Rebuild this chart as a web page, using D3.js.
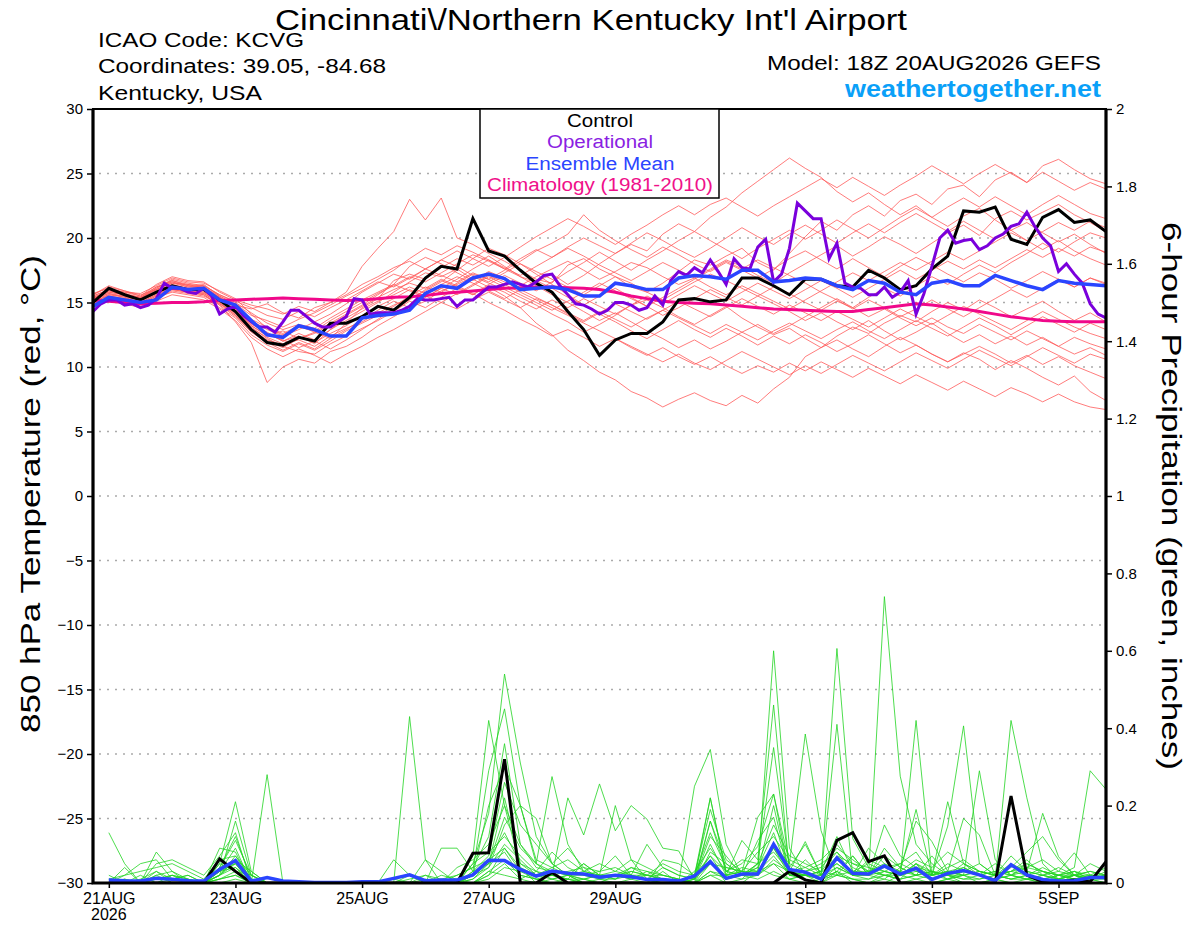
<!DOCTYPE html>
<html>
<head>
<meta charset="utf-8">
<script src="https://cdn.jsdelivr.net/npm/d3@7"></script>
<style>
  body { margin: 0; background: #fff; }
  text { font-family: "Liberation Sans", Arial, Helvetica, sans-serif; }
</style>
</head>
<body>
<svg id="chart" width="1200" height="927"></svg>
<script>
// ---- data ----
const START = Date.UTC(2026, 7, 20, 18);   // 18Z 20AUG2026, 6-hourly steps
const END = Date.UTC(2026, 8, 5, 18);

const tempTicks = [-30, -25, -20, -15, -10, -5, 0, 5, 10, 15, 20, 25, 30];
const precipTicks = [0, 0.2, 0.4, 0.6, 0.8, 1, 1.2, 1.4, 1.6, 1.8, 2];
const dateTicks = ["2026-08-21", "2026-08-23", "2026-08-25", "2026-08-27", "2026-08-29", "2026-09-01", "2026-09-03", "2026-09-05"];
const dateLabels = ["21AUG", "23AUG", "25AUG", "27AUG", "29AUG", "1SEP", "3SEP", "5SEP"];

// 850 hPa temperature, 6-hourly from 18Z 20AUG
const controlTemp = [15.0,16.1,15.6,15.2,15.8,16.3,16.0,16.0,15.2,14.3,12.9,11.9,11.7,12.3,12.0,13.4,13.4,13.9,14.7,14.4,15.4,16.9,17.8,17.6,21.5,19.0,18.6,
  17.5,16.5,15.8,14.3,12.9,10.9,12.1,12.6,12.6,13.5,15.2,15.3,15.05,15.2,16.9,16.9,16.3,15.6,
  16.8,16.8,16.3,16.2,17.5,16.9,16.0,16.3,17.6,18.6,22.1,22.0,22.4,19.9,19.5,21.6,22.2,21.2,21.4,20.5];

const meanTemp = [14.7,15.4,15.2,15.0,15.2,16.2,16.0,16.1,15.2,14.8,13.6,12.5,12.3,13.2,12.9,12.4,12.4,13.8,14.0,14.1,14.4,15.7,16.3,16.1,16.9,17.2,16.85,
  16.0,16.1,16.2,16.0,15.5,15.5,16.5,16.3,16.0,16.0,16.9,17.1,17.0,16.8,17.5,17.5,16.6,16.7,16.9,
  16.8,16.3,16.0,16.7,16.5,15.8,15.6,16.5,16.7,16.3,16.3,17.1,16.7,16.3,16.0,16.7,16.5,16.4,16.3];

const climoTemp = [15.2,15.1,15.0,14.9,14.95,15.0,15.0,15.05,15.15,15.2,15.25,15.3,15.35,15.3,15.25,15.2,15.15,15.2,15.3,15.4,15.45,15.55,15.7,15.8,15.9,16.0,
  16.1,16.15,16.2,16.2,16.15,16.1,16.0,15.8,15.5,15.3,15.1,15.0,14.95,14.9,14.8,14.7,14.6,14.5,14.45,14.4,14.35,14.3,14.3,14.45,
  14.6,14.75,14.9,14.8,14.65,14.5,14.3,14.1,13.9,13.75,13.6,13.55,13.5,13.5,13.5];

// operational run is 3-hourly
const operTemp = [14.3,14.9,15.2,15.2,14.8,14.9,14.6,14.8,15.3,16.5,
  16.1,16.1,15.8,15.7,16.1,15.5,14.1,14.5,14.7,14.0,
  13.5,13.1,13.1,12.7,13.5,14.4,14.4,13.9,13.4,13.1,
  13.1,13.5,13.9,15.3,15.2,14.1,14.2,14.2,14.2,14.4,
  14.7,15.3,15.2,15.2,15.3,15.4,14.7,15.2,15.2,15.7,
  16.2,16.2,16.4,16.6,16.4,16.2,16.6,17.1,17.2,16.3,
  15.6,14.9,14.8,14.5,14.1,14.4,15.0,15.0,14.8,14.4,
  14.6,15.5,14.8,16.7,17.4,17.1,17.7,17.3,18.3,17.4,
  16.4,18.4,17.7,17.6,19.3,19.9,16.6,17.2,19.2,22.7,
  22.1,21.5,21.5,18.4,19.6,16.5,16.2,16.1,15.6,15.6,
  16.2,15.4,15.8,16.7,14.1,15.7,17.8,20.0,20.6,19.6,
  19.8,19.9,19.1,19.4,20.0,20.3,20.9,21.1,22.0,20.9,
  20.0,19.4,17.4,18.0,17.2,16.5,14.9,14.1,13.8];

const memberTemp = [
  [15.3,15.8,15.6,15.4,16.2,16.6,16.2,16.4,15.5, 14.8,14.5,14.9,14.2,13.8,14.6,15.0,15.8,17.8, 19.2,20.5,23.0,21.4,23.1,20.0,19.5,18.8,18.2,17.5,16.8,
   16.5,17.9,18.4,17.6,17.0,16.2,15.8,16.5,17.4,18.3,17.9,18.6,19.2,18.1,17.5,18.8, 20.1,21.3,20.6,21.8,22.5,21.7,22.9,23.4,22.6,23.8,24.1,23.2,24.5,25.1,24.3,25.6,26.1,25.3,24.6,24.2],
  [15.0,15.4,15.2,14.9,15.5,16.0,15.8,15.6,14.8, 13.5,11.9,8.8,10.0,10.6,10.3,11.2,11.6,12.3, 13.2,13.9,14.6,15.1,15.9,16.4,17.0,16.5,16.0,15.4,14.8,
   14.1,13.5,12.7,13.3,14.0,14.8,15.2,14.6,13.9,13.3,14.0,14.7,13.8,13.1,12.5,13.0, 12.2,11.5,12.1,11.4,10.8,11.6,12.3,11.7,11.0,10.4,11.1,10.6,9.8,10.5,9.9,9.2,8.6,9.3,8.1,7.4],
  [15.6,16.3,15.9,15.6,16.0,16.5,16.4,16.1,15.4, 14.6,13.4,12.6,12.0,12.4,11.8,12.9,13.6,14.3, 15.0,15.8,16.6,17.3,17.0,17.6,16.8,16.2,15.5,14.6,13.4,
   12.5,11.3,10.5,9.6,9.0,8.1,7.6,6.9,7.5,8.0,7.4,7.0,7.8,7.2,8.3,9.2, 10.8,11.5,12.4,13.1,12.6,13.4,14.0,13.5,14.3,15.0,14.4,15.2,14.6,13.9,14.5,15.1,14.3,13.6,14.2,13.5],
  [14.8,15.2,15.0,14.7,15.3,15.9,15.7,15.5,14.9, 14.0,12.8,12.0,11.5,12.2,12.7,12.2,13.4,14.6, 15.3,16.7,17.2,16.8,17.7,18.4,17.9,18.6,17.8,17.0,16.6,
   17.2,16.4,17.1,18.0,18.8,19.5,19.0,20.3,21.1,20.5,21.6,22.4,23.5,24.4,25.3,26.2, 25.4,24.7,23.6,22.8,23.5,22.6,21.8,22.5,21.6,20.9,21.7,22.3,21.4,20.6,21.2,20.4,19.7,20.3,19.5,18.8],
  [15.4,15.9,15.7,15.3,16.1,16.8,16.5,16.3,15.6, 15.0,14.2,13.4,12.9,13.3,13.0,13.8,14.5,15.2, 15.8,16.4,17.8,18.5,18.0,17.3,16.7,17.4,16.9,16.3,17.0,
   17.6,18.2,17.5,16.8,17.4,18.1,17.7,17.0,16.4,16.9,17.6,18.3,17.8,17.1,16.5,17.3, 18.0,18.7,19.4,18.6,19.3,20.1,19.5,18.8,19.6,20.4,21.0,20.2,21.5,22.1,21.4,22.0,22.6,21.8,21.2,20.5],
  [15.1,15.5,15.3,15.1,15.7,16.2,15.9,15.8,15.0, 14.1,13.0,12.3,11.8,12.1,11.6,12.4,13.0,13.5, 14.2,14.8,15.3,15.9,16.6,17.5,18.4,19.2,18.7,18.0,17.2,
   16.4,15.6,14.8,15.5,16.1,15.4,14.7,14.0,14.6,15.3,16.0,15.4,14.8,15.5,14.9,14.3, 13.6,14.2,13.5,12.9,13.6,12.8,12.1,12.7,13.4,12.6,11.9,12.5,11.8,12.4,11.7,12.3,11.6,11.0,11.5,10.9],
  [15.5,16.0,15.8,15.5,16.4,17.0,16.7,16.6,15.8, 15.2,14.8,14.5,14.1,14.7,14.3,15.0,15.6,16.4, 17.0,17.7,18.2,17.6,18.3,17.8,17.1,16.6,17.3,18.0,17.4,
   16.8,16.2,15.6,16.3,17.0,16.5,15.8,15.2,15.9,16.6,17.2,16.7,16.1,15.5,16.2,15.7, 15.0,14.4,15.1,14.6,13.9,14.5,13.8,13.2,13.8,13.1,12.6,13.3,12.7,12.1,12.8,12.2,11.6,12.3,11.8,11.4],
  [14.9,15.3,15.1,14.8,15.4,15.8,15.6,15.4,14.6, 13.8,12.5,11.7,11.2,11.8,11.3,12.0,12.8,13.4, 14.0,14.7,15.5,16.2,15.8,16.5,17.2,16.8,17.5,18.2,19.0,
   19.6,20.3,21.8,20.6,19.8,19.1,18.5,19.3,18.7,18.0,17.4,18.1,17.5,16.9,17.6,18.4, 19.0,18.3,17.6,18.4,17.7,17.0,17.8,18.5,17.9,17.2,16.6,17.3,16.8,16.1,16.7,17.4,16.8,16.2,16.9,16.4],
  [15.2,15.7,15.4,15.2,15.9,16.4,16.1,16.0,15.3, 14.5,13.2,12.4,12.8,12.2,12.6,13.3,14.0,14.7, 15.4,16.0,16.5,16.1,16.8,16.3,15.7,15.0,14.4,13.7,13.1,
   12.4,12.9,12.3,11.6,12.2,11.5,10.9,11.5,10.8,10.2,10.8,10.1,9.5,10.1,9.6,10.3, 9.7,10.4,9.8,9.2,9.9,9.3,8.7,9.4,8.8,8.2,8.9,8.3,7.7,8.4,7.9,7.3,7.9,7.3,6.9,6.7],
  [15.7,16.1,15.8,15.7,16.3,16.9,16.6,16.5,15.9, 15.3,14.1,13.0,12.5,13.1,12.8,13.6,14.3,15.0, 15.7,16.3,17.0,16.6,17.3,18.0,18.7,18.2,17.6,18.4,19.1,
   18.5,19.3,20.0,19.4,18.8,19.6,20.4,19.8,19.1,18.5,19.2,20.0,20.8,20.1,19.5,20.3, 21.0,20.3,19.6,20.4,21.1,20.4,21.2,21.9,21.2,20.5,21.3,20.6,19.9,20.6,19.8,19.1,19.8,19.0,18.4,17.9],
  [15.0,15.6,15.4,15.0,15.6,16.1,15.9,15.7,14.9, 14.2,13.1,12.2,11.6,11.2,11.0,11.8,12.4,13.0, 13.6,14.3,15.1,14.6,15.4,16.1,15.6,16.3,15.8,15.1,14.5,
   15.2,14.6,15.3,14.7,14.1,14.8,15.5,14.9,15.6,16.3,15.7,15.1,15.8,16.5,15.9,15.3, 16.0,16.7,16.1,15.4,16.1,16.8,17.5,16.8,17.5,18.2,17.6,18.3,17.7,18.4,19.1,18.5,19.2,18.6,19.3,18.9],
  [15.3,15.7,15.5,15.3,15.8,16.3,16.0,15.9,15.1, 14.4,13.3,12.7,12.0,12.6,12.1,12.9,13.8,14.5, 15.1,15.6,16.2,15.7,16.4,17.0,16.5,15.9,15.3,16.0,16.7,
   16.1,15.4,14.8,14.1,13.5,12.8,12.2,12.9,13.6,12.9,12.3,13.0,12.4,11.7,12.4,11.8, 12.5,11.9,11.2,11.8,12.5,11.8,11.1,11.7,11.0,10.4,11.0,11.6,11.0,10.3,10.9,10.2,10.8,10.1,9.6,9.1],
  [15.6,16.2,15.9,15.5,16.2,16.7,16.3,16.2,15.5, 14.9,14.0,13.6,13.1,13.7,14.2,14.8,15.5,16.1, 16.8,17.5,18.4,19.2,18.7,19.4,18.9,18.3,17.6,17.0,16.3,
   15.6,15.0,14.3,13.6,14.2,13.5,12.8,12.2,11.5,12.1,11.4,12.0,12.7,13.3,12.6,13.2, 13.9,14.6,15.3,14.6,15.4,16.1,15.5,16.3,17.0,16.4,17.2,17.9,17.3,18.1,18.8,19.6,18.9,19.7,20.4,20.0],
  [15.4,15.8,15.6,15.4,16.0,16.6,16.3,16.2,15.4, 14.7,13.6,12.9,12.4,12.9,13.5,14.1,14.9,15.8, 16.5,17.2,16.8,17.6,18.3,19.0,18.4,17.8,18.5,19.3,20.1,
   20.8,21.5,20.9,20.2,19.5,20.3,21.0,21.8,22.5,21.8,22.6,23.1,22.4,21.7,22.5,23.2, 23.9,24.6,23.9,24.7,24.0,23.3,24.1,24.8,25.6,24.9,24.2,25.0,25.7,25.0,24.3,25.1,24.4,23.7,24.3,23.8],
  [14.7,15.1,14.9,14.6,15.1,15.6,15.4,15.2,14.5, 13.6,12.3,11.4,10.8,11.4,10.9,10.3,11.0,11.6, 12.3,12.9,13.6,14.3,15.0,14.5,15.2,15.8,15.2,14.6,15.3,
   14.8,14.2,13.6,14.3,13.7,13.1,13.8,14.4,13.8,13.2,12.6,13.3,12.7,12.1,12.8,13.4, 12.8,12.2,12.9,13.5,12.8,12.2,12.9,13.6,13.0,12.4,13.1,13.8,13.2,12.5,13.2,13.9,13.3,12.7,13.4,12.9],
  [15.2,15.6,15.5,15.2,15.7,16.2,16.0,15.8,15.1, 14.3,13.2,12.5,12.1,11.5,12.0,11.4,12.1,12.9, 13.7,14.5,15.2,16.0,16.7,16.2,15.6,16.4,17.1,16.5,15.9,
   16.6,17.4,18.1,18.9,18.2,17.5,18.3,19.0,19.8,20.5,19.8,19.1,18.4,19.2,19.9,20.6, 19.9,20.6,21.4,20.7,20.0,20.8,21.6,22.3,21.6,22.4,23.1,22.4,23.2,22.5,21.8,22.6,23.3,22.6,21.9,21.5],
  [15.5,16.0,15.7,15.4,16.1,16.7,16.4,16.3,15.6, 15.1,14.6,14.0,13.7,14.3,13.9,14.6,15.2,15.9, 16.6,16.2,16.9,17.6,17.1,16.6,17.3,16.8,16.2,15.6,15.0,
   14.4,15.1,15.8,16.5,15.9,15.3,14.7,15.4,16.1,16.8,17.5,18.2,17.6,18.3,17.7,17.1, 16.5,15.8,15.2,14.5,15.2,14.6,13.9,14.5,15.2,14.5,13.9,14.6,15.3,16.0,15.4,16.1,16.8,16.2,16.9,16.5],
  [14.9,15.4,15.2,14.9,15.5,16.0,15.8,15.6,14.8, 13.9,12.7,11.9,11.3,11.9,11.4,12.2,12.9,13.7, 14.4,15.1,14.6,15.4,16.1,15.6,16.3,17.0,16.4,15.8,15.2,
   14.6,14.0,13.4,12.8,12.2,11.6,11.0,10.4,11.0,10.3,9.8,10.5,11.2,10.6,10.0,9.4, 10.1,9.5,10.2,10.9,10.3,9.7,10.4,11.1,10.5,9.9,10.6,11.3,10.7,10.1,10.8,11.5,10.9,10.3,11.0,10.6],
  [15.3,15.9,15.6,15.3,16.0,16.5,16.2,16.1,15.4, 14.7,13.7,13.1,12.6,13.2,12.7,13.4,14.1,14.8, 15.6,16.4,15.9,15.4,16.1,16.8,17.6,18.3,17.7,17.1,17.8,
   18.5,19.2,18.6,17.9,17.3,16.7,17.4,18.1,17.5,16.9,16.2,15.6,16.3,15.7,15.1,14.5, 15.2,15.9,16.6,17.3,16.7,17.4,18.1,17.5,18.2,18.9,18.3,19.0,19.7,20.4,19.8,20.5,21.2,20.6,21.3,20.8],
  [15.1,15.5,15.3,15.0,15.6,16.1,15.8,15.7,15.0, 14.0,12.9,12.1,11.7,12.3,11.9,12.6,13.2,14.0, 14.7,15.3,16.0,15.5,15.0,15.7,16.4,17.1,16.6,16.0,15.4,
   14.8,14.1,13.5,14.2,14.9,14.3,13.7,14.4,15.1,14.5,13.9,14.6,15.3,14.7,14.1,14.8, 14.2,13.6,14.3,13.7,13.1,13.8,14.5,13.9,13.3,14.0,14.7,14.1,13.5,12.9,13.6,14.3,13.7,13.1,12.6,12.2]
];

// 6-hour precipitation (inches), from 00Z 21AUG (step 1) on
const controlPrecip = [0,0,0,0,0,0,0,0.062,0.03,0,0,0,0,0,0,0, 0,0,0,0,0,0,0,0.077,0.078,0.32,0,0,0.027,0,0,0,
  0,0,0,0,0,0,0,0,0,0,0,0.03,0.008,0,0.11,0.13, 0.055,0.07,0,0,0,0,0,0,0,0.225,0.02,0.003,0.003,0.008,0.003,0.055];

const meanPrecip = [0.008,0.006,0.005,0.012,0.01,0.006,0.005,0.035,0.058,0.005,0.014,0.005,0.003,0.001,0.001,0.001,
  0.003,0.003,0.012,0.021,0.006,0.008,0.008,0.021,0.059,0.058,0.035,0.018,0.031,0.025,0.023,0.015,
  0.02,0.016,0.009,0.009,0.005,0.018,0.055,0.012,0.023,0.023,0.10,0.035,0.028,0.01,0.065,0.025,
  0.023,0.044,0.023,0.038,0.009,0.025,0.032,0.021,0.006,0.047,0.021,0.009,0.005,0.006,0.014,0.014];

const memberPrecip = [
  [0.13,0.05,0,0,0,0,0,0.02,0.04,0,0,0,0,0,0,0, 0,0,0,0.02,0,0,0,0.05,0.18,0.54,0.31,0.12,0.05,0.02,0,0,
   0,0,0,0,0,0.02,0.06,0,0,0.03,0.6,0.09,0.02,0,0.03,0, 0,0,0.02,0.05,0,0.01,0,0,0,0,0,0,0,0.01,0,0],
  [0,0.04,0,0.08,0.03,0,0,0.05,0.21,0.03,0,0,0,0,0,0, 0,0,0,0.43,0.06,0,0,0.07,0.42,0.2,0.04,0,0,0,0,0.01,
   0,0,0,0.03,0,0,0.05,0.02,0.03,0.17,0.23,0.05,0.385,0.135,0.02,0.07, 0.02,0.74,0.276,0.1,0.05,0.02,0,0,0.01,0,0,0,0,0.02,0,0],
  [0.02,0,0,0.05,0.06,0.04,0.02,0.07,0.13,0,0.28,0,0,0,0,0, 0,0,0.06,0.02,0,0.09,0.09,0.03,0.29,0.45,0.2,0.167,0.05,0.02,0.01,0,
   0.02,0.04,0.02,0.01,0,0.25,0.345,0.1,0.02,0.05,0.35,0.04,0.1,0.02,0.606,0.115, 0.04,0.02,0.02,0.42,0.02,0.21,0.05,0.02,0.01,0.42,0.22,0.05,0.01,0.02,0.01,0.02],
  [0,0.02,0.05,0.06,0.01,0.02,0,0.04,0.11,0.02,0,0,0,0,0,0, 0,0,0,0,0.06,0.03,0,0.02,0.2,0.3,0.2,0.05,0.275,0.1,0.03,0.02,
   0.2,0.06,0.01,0,0,0.02,0.22,0.02,0.11,0.06,0.46,0.03,0.107,0.02,0.41,0.02, 0.09,0.05,0.03,0.19,0.02,0.147,0.406,0.05,0.02,0.05,0.03,0.18,0.068,0.02,0.01,0.02],
  [0,0,0,0,0.02,0.01,0,0.03,0.09,0,0,0,0,0,0,0, 0,0,0,0,0,0,0.04,0.06,0.1,0.2,0.1,0.05,0.02,0.22,0.124,0.256,
   0.135,0.2,0.165,0.09,0.083,0.01,0.16,0.03,0.05,0.094,0.23,0.02,0.02,0.01,0.03,0.07, 0.02,0.01,0.04,0.16,0.107,0.03,0.167,0.124,0.02,0.03,0.05,0.03,0.01,0.02,0.01,0],
  [0.01,0.02,0.03,0.04,0.05,0.03,0.01,0.06,0.07,0.02,0,0,0,0,0,0, 0,0,0,0.01,0.02,0.01,0.02,0.04,0.06,0.13,0.05,0.03,0.08,0.04,0.02,0.01,
   0.01,0.03,0.02,0.05,0.03,0.02,0.13,0.04,0.03,0.08,0.12,0.06,0.04,0.02,0.07,0.05, 0.03,0.02,0.03,0.06,0.04,0.08,0.05,0.03,0.02,0.07,0.03,0.02,0.04,0.02,0.01,0.03],
  [0,0.01,0,0.02,0,0,0,0.02,0.05,0.01,0,0,0,0,0,0, 0,0,0,0,0,0,0,0.01,0.05,0.08,0.02,0.01,0,0,0.01,0,
   0,0,0,0.06,0.05,0.02,0.07,0.01,0.02,0.11,0.17,0.02,0.01,0,0.02,0.01, 0,0.02,0.01,0.05,0.02,0.03,0.02,0.29,0.06,0.02,0.01,0,0.02,0.04,0.29,0.242],
  [0,0,0,0,0,0,0,0.05,0.03,0,0,0,0,0,0,0, 0,0,0,0,0,0,0,0.02,0.04,0.1,0.06,0.02,0.04,0.02,0,0,
   0,0,0,0,0,0.03,0.09,0.03,0.02,0.04,0.02,0.01,0.02,0.03,0.02,0.03, 0.02,0.09,0.04,0.02,0.03,0.02,0.01,0.02,0.05,0.02,0.01,0.02,0.03,0.078,0.02,0.01],
  [0,0,0.02,0,0.01,0.02,0,0.01,0.02,0,0,0,0,0,0,0, 0,0,0.01,0,0,0.02,0.01,0,0.03,0.02,0.01,0.03,0.01,0.02,0.03,0.02,
   0.01,0.04,0.03,0.02,0.01,0,0.03,0.02,0.04,0.03,0.05,0.03,0.02,0.01,0.04,0.02, 0.01,0.03,0.02,0.01,0.02,0.01,0.03,0.02,0.01,0.02,0.01,0.02,0.01,0.03,0.02,0.01],
  [0,0,0,0,0,0,0,0.09,0.08,0,0,0,0,0,0,0, 0,0,0,0,0,0,0,0,0.03,0.06,0.02,0.01,0.02,0.01,0,0,
   0,0,0,0,0,0,0.02,0.02,0.03,0.02,0.09,0.02,0.02,0.03,0.05,0.02, 0.03,0.02,0.01,0.02,0.03,0.02,0.02,0.01,0.02,0.01,0.02,0.01,0.02,0.03,0.01,0.02],
  [0,0,0.01,0.03,0,0,0,0.03,0.05,0,0,0,0,0,0,0, 0,0,0,0,0,0,0,0.03,0.07,0.26,0.15,0.1,0.05,0.09,0.04,0.03,
   0.07,0.02,0.1,0.04,0.02,0.01,0.22,0.03,0.06,0.05,0.15,0.07,0.05,0.03,0.12,0.03, 0.05,0.03,0.05,0.08,0.02,0.04,0.06,0.03,0.02,0.04,0.08,0.12,0.06,0.02,0.05,0.03],
  [0,0,0,0,0,0,0,0.02,0.06,0.03,0,0,0,0,0,0, 0,0,0,0,0,0,0,0.01,0.04,0.15,0.2,0.06,0.04,0.06,0.03,0.05,
   0.03,0.06,0.04,0.02,0.01,0,0.16,0.05,0.02,0.02,0.1,0.05,0.03,0.05,0.08,0.04, 0.02,0.15,0.07,0.04,0.03,0.02,0.04,0.02,0.01,0.02,0.03,0.02,0.01,0.02,0.03,0.02],
  [0,0.01,0,0.01,0.02,0.01,0,0.04,0.12,0.01,0,0,0,0,0,0, 0,0,0,0,0.01,0,0.02,0.04,0.12,0.36,0.1,0.04,0.03,0.02,0.05,0.02,
   0.02,0.01,0.02,0.01,0,0.02,0.19,0.06,0.03,0.02,0.06,0.03,0.04,0.06,0.1,0.05, 0.04,0.03,0.02,0.05,0.03,0.02,0.03,0.05,0.02,0.03,0.04,0.03,0.02,0.01,0.02,0.04],
  [0,0,0,0.02,0.03,0.01,0,0.02,0.16,0.02,0,0,0,0,0,0, 0,0,0,0,0,0.01,0,0.02,0.05,0.22,0.05,0.02,0.02,0.01,0.05,0.02,
   0.03,0.02,0.01,0.04,0.02,0.01,0.05,0.04,0.03,0.03,0.07,0.02,0.03,0.04,0.09,0.06, 0.03,0.05,0.02,0.03,0.02,0.05,0.03,0.02,0.03,0.02,0.05,0.03,0.02,0.01,0.02,0.02],
  [0,0,0,0,0,0,0,0.01,0.03,0.02,0,0,0,0,0,0, 0,0,0,0,0,0,0,0,0.02,0.09,0.04,0.02,0.02,0.01,0.01,0.02,
   0.01,0.02,0.01,0,0,0.01,0.1,0.02,0.01,0.05,0.08,0.03,0.02,0.02,0.04,0.02, 0.02,0.07,0.04,0.02,0.03,0.01,0.02,0.03,0.02,0.03,0.06,0.02,0.01,0.02,0.01,0.02],
  [0.01,0,0,0,0,0,0,0.01,0.02,0,0,0,0,0,0,0, 0,0,0,0,0,0,0,0,0.01,0.04,0.03,0.01,0,0.01,0,0,
   0,0.01,0,0,0,0,0.03,0.01,0.02,0.01,0.03,0.01,0.02,0.01,0.02,0.01, 0.01,0.02,0.01,0.02,0.01,0.02,0.01,0.01,0.02,0.01,0.01,0.01,0.02,0.01,0.01,0.01],
  [0,0,0,0.01,0.02,0,0,0.03,0.04,0.01,0,0,0,0,0,0, 0,0,0,0,0,0,0,0.05,0.08,0.12,0.07,0.03,0.02,0.03,0.04,0.01,
   0.02,0.03,0.02,0.02,0.01,0,0.08,0.05,0.02,0.04,0.13,0.02,0.06,0.02,0.05,0.02, 0.06,0.04,0.03,0.02,0.07,0.02,0.05,0.03,0.02,0.01,0.02,0.04,0.02,0.03,0.01,0.02],
  [0,0,0,0,0,0,0,0,0.01,0,0,0,0,0,0,0, 0,0,0,0,0,0,0,0,0.02,0.05,0.01,0,0.01,0,0,0,
   0,0,0,0.01,0,0,0.02,0,0.01,0.02,0.05,0.01,0,0.01,0.03,0.01, 0,0.01,0,0.01,0,0.01,0.02,0,0.01,0,0.01,0,0.01,0,0.01,0],
  [0,0,0,0.03,0.01,0,0,0.02,0.07,0.01,0,0,0,0,0,0, 0,0,0,0,0.02,0,0,0.03,0.05,0.17,0.09,0.05,0.03,0.02,0.02,0.03,
   0.04,0.02,0.02,0.01,0,0.01,0.12,0.07,0.02,0.05,0.09,0.03,0.02,0.02,0.06,0.03, 0.03,0.04,0.05,0.03,0.02,0.03,0.04,0.02,0.03,0.02,0.04,0.06,0.03,0.02,0.03,0.02],
  [0,0,0,0,0,0,0,0.04,0.05,0,0,0,0,0,0,0, 0,0,0,0,0,0,0,0.02,0.06,0.09,0.03,0.02,0.01,0.02,0.01,0.02,
   0.02,0.01,0.03,0.01,0,0.01,0.07,0.03,0.02,0.03,0.2,0.02,0.02,0.03,0.08,0.02, 0.02,0.03,0.02,0.04,0.02,0.03,0.02,0.03,0.02,0.03,0.02,0.03,0.02,0.02,0.02,0.01]
];

const legendItems = ["Control", "Operational", "Ensemble Mean", "Climatology (1981-2010)"];
const legendWidths = [66, 106, 149, 226];

// ---- layout ----
const W = 1200, H = 927;
const plot = { left: 93, right: 1106, top: 109, bottom: 883 };
const HOUR = 3600e3;

const svg = d3.select("#chart");
svg.append("rect").attr("width", W).attr("height", H).attr("fill", "#fff");

const x = d3.scaleUtc().domain([START, END]).range([plot.left, plot.right]);
const yT = d3.scaleLinear().domain([-30, 30]).range([plot.bottom, plot.top]);
const yP = d3.scaleLinear().domain([0, 2]).range([plot.bottom, plot.top]);

svg.append("clipPath").attr("id", "plotclip")
  .append("rect")
  .attr("x", plot.left).attr("y", plot.top - 2)
  .attr("width", plot.right - plot.left).attr("height", plot.bottom - plot.top + 2);

// gridlines (follow the temperature ticks)
svg.append("g")
  .selectAll("line")
  .data(tempTicks.filter(t => t > -30 && t < 30))
  .enter().append("line")
  .attr("x1", plot.left + 6).attr("x2", plot.right)
  .attr("y1", d => yT(d)).attr("y2", d => yT(d))
  .attr("stroke", "#aaa").attr("stroke-width", 1.4)
  .attr("stroke-dasharray", "2,6");

const lines = svg.append("g").attr("clip-path", "url(#plotclip)");

const tempLine = (step) => d3.line()
  .x((d, i) => x(START + i * step * HOUR))
  .y(d => yT(d));
const precipLine = d3.line()
  .x((d, i) => x(START + (i + 1) * 6 * HOUR))
  .y(d => yP(d));

// ensemble members
lines.selectAll(".tmember")
  .data(memberTemp)
  .enter().append("path")
  .classed("tmember", true)
  .attr("d", tempLine(6))
  .attr("fill", "none").attr("stroke", "#ff5a5a").attr("stroke-width", 0.8);

lines.selectAll(".pmember")
  .data(memberPrecip)
  .enter().append("path")
  .classed("pmember", true)
  .attr("d", precipLine)
  .attr("fill", "none").attr("stroke", "#22d422").attr("stroke-width", 0.8);

// main lines
lines.append("path").attr("d", tempLine(6)(climoTemp))
  .attr("fill", "none").attr("stroke", "#f0088a").attr("stroke-width", 3);
lines.append("path").attr("d", precipLine(controlPrecip))
  .attr("fill", "none").attr("stroke", "#000").attr("stroke-width", 3);
lines.append("path").attr("d", tempLine(6)(controlTemp))
  .attr("fill", "none").attr("stroke", "#000").attr("stroke-width", 3);
lines.append("path").attr("d", tempLine(3)(operTemp))
  .attr("fill", "none").attr("stroke", "#7a00dc").attr("stroke-width", 3);
lines.append("path").attr("d", precipLine(meanPrecip))
  .attr("fill", "none").attr("stroke", "#2a45ff").attr("stroke-width", 3.5);
lines.append("path").attr("d", tempLine(6)(meanTemp))
  .attr("fill", "none").attr("stroke", "#2a45ff").attr("stroke-width", 3.5);

// ---- axes ----
const styleAxis = g => {
  g.select(".domain").remove();
  g.selectAll(".tick line").attr("stroke", "#000").attr("stroke-width", 1.5);
  g.selectAll(".tick text").attr("font-size", 15).attr("fill", "#000")
    .attr("font-family", "Liberation Sans, Arial, sans-serif");
};

svg.append("g")
  .attr("transform", `translate(${plot.left},0)`)
  .call(d3.axisLeft(yT).tickValues(tempTicks).tickSize(6).tickPadding(4))
  .call(styleAxis);

svg.append("g")
  .attr("transform", `translate(${plot.right},0)`)
  .call(d3.axisRight(yP).tickValues(precipTicks).tickSize(6).tickPadding(4)
    .tickFormat(d => d3.format("~g")(d)))
  .call(styleAxis);

const xAxis = svg.append("g")
  .attr("transform", `translate(0,${plot.bottom})`)
  .call(d3.axisBottom(x)
    .tickValues(dateTicks.map(d => new Date(d + "T00:00:00Z")))
    .tickFormat((d, i) => dateLabels[i])
    .tickSize(5).tickPadding(5))
  .call(styleAxis);
xAxis.selectAll(".tick text").attr("font-size", 16);

svg.append("text")
  .attr("x", x(new Date(dateTicks[0] + "T00:00:00Z"))).attr("y", 920)
  .attr("text-anchor", "middle").attr("font-size", 16)
  .text("2026");

// frame
svg.append("rect")
  .attr("x", plot.left).attr("y", plot.top)
  .attr("width", plot.right - plot.left).attr("height", plot.bottom - plot.top)
  .attr("fill", "none").attr("stroke", "#000").attr("stroke-width", 2);
svg.append("path")
  .attr("d", `M${plot.left},${plot.top}V${plot.bottom}H${plot.right}V${plot.top}`)
  .attr("fill", "none").attr("stroke", "#000").attr("stroke-width", 3.2);

// ---- legend ----
const legendColors = ["#000", "#8a1ee2", "#2a45ff", "#f0108a"];
const legend = svg.append("g");
legend.append("rect")
  .attr("x", 480).attr("y", plot.top).attr("width", 239).attr("height", 89)
  .attr("fill", "#fff").attr("stroke", "#000").attr("stroke-width", 1.5);
legend.selectAll("text")
  .data(legendItems)
  .enter().append("text")
  .attr("x", 600).attr("y", (d, i) => 127 + i * 21.3)
  .attr("text-anchor", "middle").attr("font-size", 18)
  .attr("textLength", (d, i) => legendWidths[i]).attr("lengthAdjust", "spacingAndGlyphs")
  .attr("fill", (d, i) => legendColors[i])
  .text(d => d);

// ---- titles ----
svg.append("text")
  .attr("x", 591).attr("y", 30).attr("text-anchor", "middle")
  .attr("font-size", 30).attr("textLength", 632).attr("lengthAdjust", "spacingAndGlyphs")
  .text("Cincinnati\\/Northern Kentucky Int'l Airport");

const infoLeft = [
  { t: "ICAO Code: KCVG", y: 47, w: 206 },
  { t: "Coordinates: 39.05, -84.68", y: 73, w: 288 },
  { t: "Kentucky, USA", y: 100, w: 164 }
];
svg.selectAll(".info")
  .data(infoLeft)
  .enter().append("text")
  .classed("info", true)
  .attr("x", 98).attr("y", d => d.y)
  .attr("font-size", 20)
  .attr("textLength", d => d.w).attr("lengthAdjust", "spacingAndGlyphs")
  .text(d => d.t);

svg.append("text")
  .attr("x", 767).attr("y", 70)
  .attr("font-size", 20).attr("textLength", 334).attr("lengthAdjust", "spacingAndGlyphs")
  .text("Model: 18Z 20AUG2026 GEFS");

svg.append("text")
  .attr("x", 845).attr("y", 97)
  .attr("font-size", 23).attr("font-weight", "bold").attr("fill", "#0aa0f8")
  .attr("textLength", 256).attr("lengthAdjust", "spacingAndGlyphs")
  .text("weathertogether.net");

svg.append("text")
  .attr("transform", `translate(40,494) rotate(-90)`)
  .attr("text-anchor", "middle").attr("font-size", 27)
  .attr("textLength", 478).attr("lengthAdjust", "spacingAndGlyphs")
  .text("850 hPa Temperature (red, \u00B0C)");

svg.append("text")
  .attr("transform", `translate(1162,496) rotate(90)`)
  .attr("text-anchor", "middle").attr("font-size", 27)
  .attr("textLength", 548).attr("lengthAdjust", "spacingAndGlyphs")
  .text("6-hour Precipitation (green, inches)");
</script>
</body>
</html>
